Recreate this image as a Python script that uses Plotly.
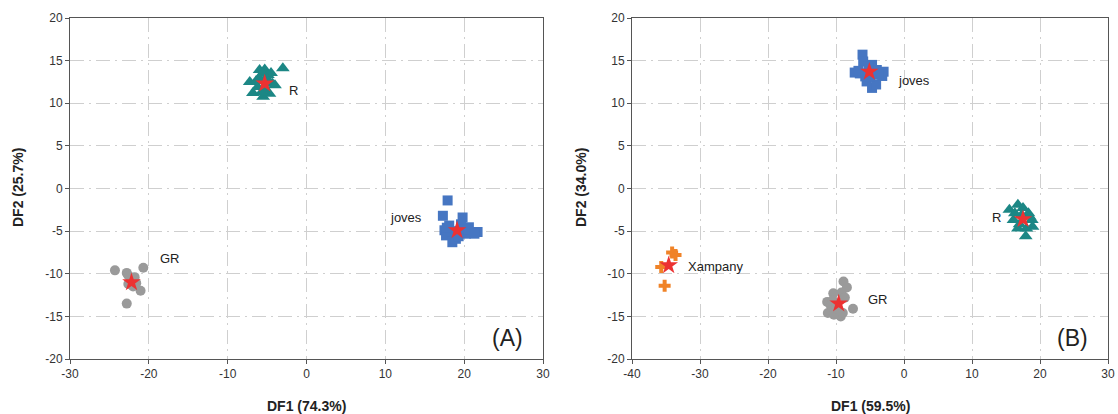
import plotly.graph_objects as go

# ---------------- Panel A data ----------------
a_R_x = [-3.0, -7.2, -6.8, -5.5, -5.95, -5.3, -4.5, -4.3, -4.7, -6.2, -5.7, -5.0, -6.4, -4.9, -5.6, -5.2, -4.0, -6.0]
a_R_y = [14.1, 12.5, 11.2, 10.75, 13.9, 13.95, 13.55, 12.3, 11.1, 11.9, 11.3, 12.9, 12.6, 13.3, 13.5, 11.6, 12.1, 12.9]
a_jov_x = [17.9, 17.3, 19.8, 17.5, 17.7, 18.5, 18.95, 20.6, 21.7, 20.2, 19.6, 18.1, 19.0, 20.0, 18.4, 19.3, 21.3, 17.8]
a_jov_y = [-1.4, -3.2, -3.4, -4.9, -5.5, -6.3, -5.9, -4.55, -5.1, -5.3, -4.2, -4.35, -5.2, -4.8, -5.0, -5.6, -5.3, -4.6]
a_GR_x = [-24.3, -20.7, -22.8, -22.6, -21.8, -22.6, -22.0, -21.05, -22.8, -21.6]
a_GR_y = [-9.6, -9.3, -9.9, -10.2, -10.4, -11.2, -11.5, -12.0, -13.5, -11.1]
a_cent_x = [-5.3, 19.1, -22.2]
a_cent_y = [12.3, -4.9, -11.0]
a_lab_text = ["R", "joves", "GR"]
a_lab_x = [-2.5, 14.9, -18.8]
a_lab_y = [11.45, -3.4, -8.2]
a_lab_anchor = ["left", "right", "left"]

# ---------------- Panel B data ----------------
b_jov_x = [-6.1, -6.0, -7.25, -6.5, -5.7, -5.5, -4.7, -4.1, -4.7, -4.0, -3.0, -3.2, -5.2, -3.7, -6.7, -5.0]
b_jov_y = [15.7, 14.9, 13.6, 13.5, 13.15, 12.56, 11.8, 12.2, 14.5, 13.9, 13.7, 13.2, 14.3, 13.35, 13.8, 13.1]
b_R_x = [15.5, 16.75, 17.5, 18.3, 18.8, 18.9, 18.0, 16.75, 16.1, 17.9, 17.3, 16.3, 17.0, 18.5]
b_R_y = [-2.5, -1.9, -2.3, -2.9, -3.7, -4.5, -4.7, -4.7, -3.7, -5.6, -3.1, -2.9, -4.2, -3.3]
b_X_x = [-34.1, -33.6, -35.7, -35.2]
b_X_y = [-7.5, -7.8, -9.2, -11.4]
b_GR_x = [-8.9, -8.4, -10.4, -9.2, -8.7, -11.3, -10.8, -11.2, -10.3, -9.3, -9.0, -7.5, -10.0, -10.5]
b_GR_y = [-10.9, -11.6, -12.3, -12.2, -12.8, -13.3, -13.7, -14.6, -14.8, -15.0, -14.6, -14.1, -14.05, -13.1]
b_cent_x = [-5.1, 17.5, -34.6, -9.6]
b_cent_y = [13.7, -3.6, -9.0, -13.5]
b_lab_text = ["joves", "R", "Xampany", "GR"]
b_lab_x = [-1.2, 12.7, -32.0, -5.6]
b_lab_y = [12.7, -3.4, -9.2, -13.0]

# ---------------- tick labels ----------------
a_xticks = [-30, -20, -10, 0, 10, 20, 30]
b_xticks = [-40, -30, -20, -10, 0, 10, 20, 30]
yticks = [-20, -15, -10, -5, 0, 5, 10, 15, 20]
a_xtick_text = [str(v) for v in a_xticks]
b_xtick_text = [str(v) for v in b_xticks]
ytick_text = [str(v) for v in yticks]

# ---------------- styles ----------------
TEAL = "#1c8785"
BLUE = "#4676c2"
GRAY = "#9a9a9a"
ORANGE = "#f08328"
RED = "#ec3232"
FONT = "Liberation Sans, Arial, sans-serif"

fig = go.Figure()

def pts(x, y, symbol, color, size, xa, ya):
    fig.add_trace(go.Scatter(x=x, y=y, mode="markers", xaxis=xa, yaxis=ya,
                             marker=dict(symbol=symbol, color=color, size=size,
                                         line=dict(width=0)),
                             showlegend=False, hoverinfo="skip"))

# Panel A
pts(a_R_x, a_R_y, "triangle-up", TEAL, 12, "x", "y")
pts(a_jov_x, a_jov_y, "square", BLUE, 10, "x", "y")
pts(a_GR_x, a_GR_y, "circle", GRAY, 10, "x", "y")
pts(a_cent_x, a_cent_y, "star", RED, 14, "x", "y")

# Panel B
pts(b_jov_x, b_jov_y, "square", BLUE, 10, "x2", "y2")
pts(b_R_x, b_R_y, "triangle-up", TEAL, 12, "x2", "y2")
pts(b_X_x, b_X_y, "cross", ORANGE, 10, "x2", "y2")
pts(b_GR_x, b_GR_y, "circle", GRAY, 10, "x2", "y2")
pts(b_cent_x, b_cent_y, "star", RED, 14, "x2", "y2")

annotations = []
for t, x, y, anc in zip(a_lab_text, a_lab_x, a_lab_y, a_lab_anchor):
    annotations.append(dict(text=t, x=x, y=y, xref="x", yref="y", xanchor=anc,
                            yanchor="middle", showarrow=False,
                            font=dict(family=FONT, size=13, color="#222")))
for t, x, y in zip(b_lab_text, b_lab_x, b_lab_y):
    annotations.append(dict(text=t, x=x, y=y, xref="x2", yref="y2", xanchor="left",
                            yanchor="middle", showarrow=False,
                            font=dict(family=FONT, size=13, color="#222")))
annotations.append(dict(text="(A)", x=27.7, y=-17.5, xref="x", yref="y", xanchor="right",
                        yanchor="middle", showarrow=False,
                        font=dict(family=FONT, size=23, color="#222")))
annotations.append(dict(text="(B)", x=27.3, y=-17.5, xref="x2", yref="y2", xanchor="right",
                        yanchor="middle", showarrow=False,
                        font=dict(family=FONT, size=23, color="#222")))

W, H = 1118, 414
def title(text, px, py, angle=0):
    annotations.append(dict(text="<b>%s</b>" % text, x=px / W, y=1 - py / H,
                            xref="paper", yref="paper", xanchor="center", yanchor="middle",
                            textangle=angle, showarrow=False,
                            font=dict(family=FONT, size=14, color="#222")))

title("DF2 (25.7%)", 18, 188, -90)
title("DF1 (74.3%)", 306, 406)
title("DF2 (34.0%)", 581, 188, -90)
title("DF1 (59.5%)", 870, 406)

y_dom = [1 - 359 / H, 1 - 18 / H]
axis_common = dict(showline=True, mirror=True, linecolor="#555", linewidth=1,
                   ticks="outside", ticklen=4, tickcolor="#555",
                   showgrid=True, gridcolor="#cfcfcf", gridwidth=1.3,
                   griddash="14px,5px,2px,5px", zeroline=False, automargin=False,
                   tickfont=dict(family=FONT, size=12, color="#333"))

fig.update_layout(
    width=W, height=H,
    margin=dict(l=0, r=0, t=0, b=0, autoexpand=False),
    paper_bgcolor="white", plot_bgcolor="white",
    xaxis=dict(domain=[70 / W, 543 / W], range=[-30, 30], tickmode="array",
               tickvals=a_xticks, ticktext=a_xtick_text, anchor="y", **axis_common),
    yaxis=dict(domain=y_dom, range=[-20, 20], tickmode="array",
               tickvals=yticks, ticktext=ytick_text, anchor="x", **axis_common),
    xaxis2=dict(domain=[632 / W, 1108 / W], range=[-40, 30], tickmode="array",
                tickvals=b_xticks, ticktext=b_xtick_text, anchor="y2", **axis_common),
    yaxis2=dict(domain=y_dom, range=[-20, 20], tickmode="array",
                tickvals=yticks, ticktext=ytick_text, anchor="x2", **axis_common),
    annotations=annotations,
)

fig.write_html("out.html")
